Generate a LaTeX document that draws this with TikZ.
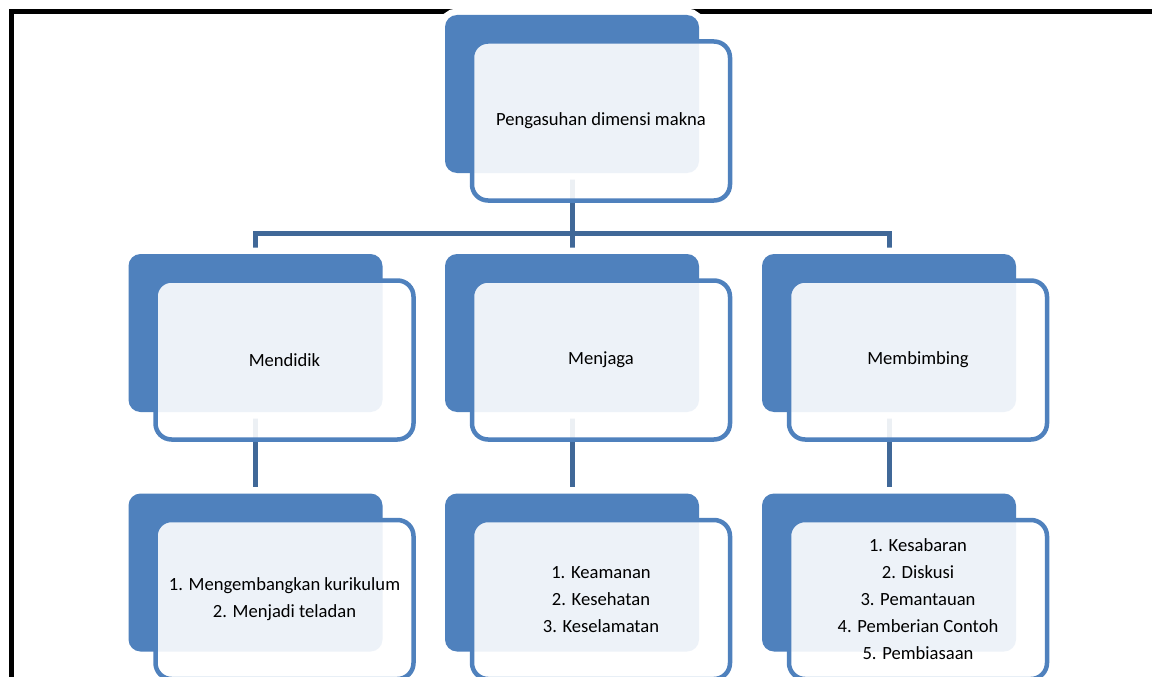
\documentclass[tikz,border=0pt]{standalone}
\usepackage{fontspec}
\setmainfont{Carlito}
\usepackage{tikz}
\usetikzlibrary{backgrounds}
\definecolor{accent}{RGB}{79,129,189}
\definecolor{linkblue}{RGB}{64,104,152}
\newcommand{\boxw}{254pt}
\newcommand{\boxh}{158pt}
\tikzstyle{backbox}=[fill=accent, rounded corners=12pt, minimum width=\boxw, minimum height=\boxh, inner sep=0,
                     % white rim round the dark card
                     preaction={draw=white, line width=13pt}]
\tikzstyle{frontbox}=[draw=accent, line width=4.5pt, fill=white, fill opacity=0.9, text opacity=1,
                      rounded corners=16pt, minimum width=258pt, minimum height=159pt, inner sep=0,
                      align=center, font=\fontsize{18.6}{27}\selectfont]
\tikzstyle{link}=[draw=linkblue, line width=5pt]

\begin{document}
\begin{tikzpicture}[x=1pt, y=-1pt]
        \useasboundingbox (0,0) rectangle (1152,677);
        \clip (0,0) rectangle (1152,677);
        % level 0
        \node[backbox]  (B0) at (572, 94) {};
        \node[frontbox] (F0) at (601, 121) {Pengasuhan dimensi makna};
        % level 1
        \node[backbox]  (B1) at (255.5, 333) {};
        \node[frontbox] (F1) at (284.5, 360) {Mendidik};
        \node[backbox]  (B2) at (572, 333) {};
        \node[frontbox] (F2) at (601, 360) {Menjaga};
        \node[backbox]  (B3) at (889, 333) {};
        \node[frontbox] (F3) at (918, 360) {Membimbing};
        % level 2
        \node[backbox]  (B4) at (255.5, 572.5) {};
        \node[frontbox] (F4) at (284.5, 599.5) {1. Mengembangkan kurikulum\\2. Menjadi teladan};
        \node[backbox]  (B5) at (572, 572.5) {};
        \node[frontbox] (F5) at (601, 599.5) {1. Keamanan\\2. Kesehatan\\3. Keselamatan};
        \node[backbox]  (B6) at (889, 572.5) {};
        \node[frontbox] (F6) at (918, 599.5) {1. Kesabaran\\2. Diskusi\\3. Pemantauan\\4. Pemberian Contoh\\5. Pembiasaan};
        \coordinate (bus) at (572, 233);
        \begin{scope}[on background layer]
            \draw[line width=5pt] (11.5, 677) -- (11.5, 12) -- (1152, 12);
            \draw[link] (B0) -- (bus);
            \draw[link] (B1) |- (bus) -| (B3);
            \draw[link] (bus) -- (B2);
            \draw[link] (B1) -- (B4);
            \draw[link] (B2) -- (B5);
            \draw[link] (B3) -- (B6);
        \end{scope}
    \end{tikzpicture}
\end{document}
